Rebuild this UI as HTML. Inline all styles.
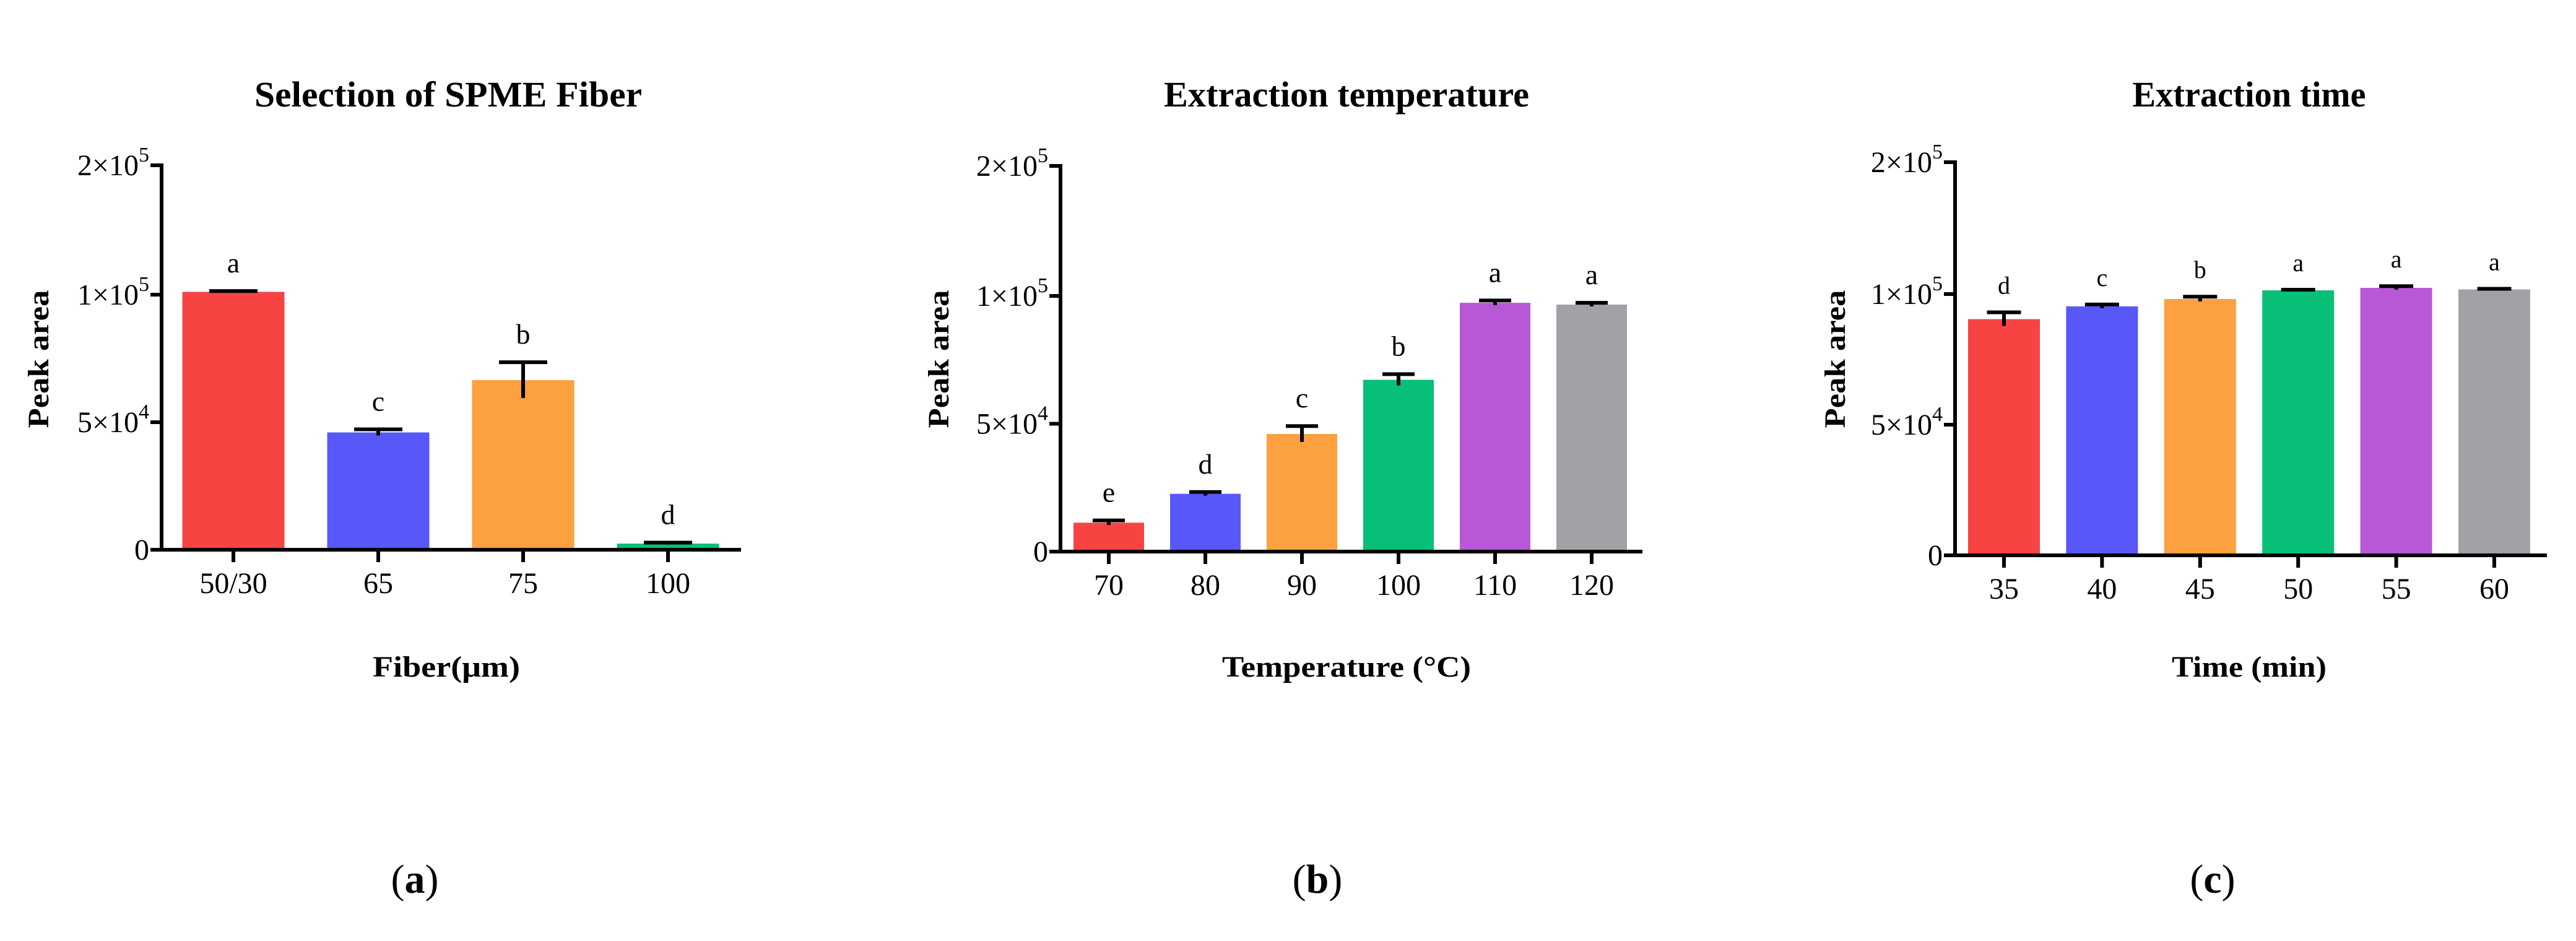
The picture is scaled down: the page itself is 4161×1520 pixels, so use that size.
<!DOCTYPE html>
<html><head><meta charset="utf-8"><style>
html,body{margin:0;padding:0;background:#fff;}
svg{display:block;font-family:"Liberation Serif",serif;}
</style></head><body>
<svg id="fig" width="4161" height="1520" viewBox="0 0 4161 1520" xmlns="http://www.w3.org/2000/svg"></svg>
<script>
const colors = ["#F84343","#5858F8","#FCA040","#08BF78","#B858D6","#A2A1A5"];
// Panel a
const catsA = ["50/30","65","75","100"];
const valsA = [102200, 46000, 66500, 2400];
const errsA = [600, 1200, 7000, 400];
const lettersA = ["a","c","b","d"];
// Panel b
const catsB = ["70","80","90","100","110","120"];
const valsB = [11300, 22600, 46000, 67200, 97300, 96600];
const errsB = [900, 700, 3100, 2200, 900, 700];
const lettersB = ["e","d","c","b","a","a"];
// Panel c
const catsC = ["35","40","45","50","55","60"];
const valsC = [90400, 95300, 98100, 102800, 104700, 103500];
const errsC = [2600, 700, 900, 500, 1300, 500];
const lettersC = ["d","c","b","a","a","a"];
const yTicks = [0, 50000, 100000, 200000];
const yTickBase = ["0","5×10","1×10","2×10"];
const yTickExp = ["","4","5","5"];

const NS="http://www.w3.org/2000/svg";
const svg=document.getElementById('fig');
function mk(tag,attrs,parent){const e=document.createElementNS(NS,tag);for(const k in attrs)e.setAttribute(k,attrs[k]);(parent||svg).appendChild(e);return e;}

const panels=[
 {id:'a',cats:catsA,vals:valsA,errs:errsA,letters:lettersA,ax:261,axEnd:1197,y0:888,y1:476,y2:267,c0:377,step:234,bw:165,cap:78,lf:46,
  title:"Selection of SPME Fiber",tx:724,tw:626,ylx:62,xl:"Fiber(μm)",xlw:238,xlx:721,lab:670},
 {id:'b',cats:catsB,vals:valsB,errs:errsB,letters:lettersB,ax:1713,axEnd:2653,y0:891,y1:478,y2:268,c0:1791,step:156,bw:114,cap:52,lf:46,
  title:"Extraction temperature",tx:2175,tw:590,ylx:1516,xl:"Temperature (°C)",xlw:402,xlx:2175,lab:2128},
 {id:'c',cats:catsC,vals:valsC,errs:errsC,letters:lettersC,ax:3158,axEnd:4114,y0:897,y1:475,y2:262,c0:3237,step:158.4,bw:116,cap:55,lf:40,
  title:"Extraction time",tx:3633,tw:377,ylx:2964,xl:"Time (min)",xlw:250,xlx:3633,lab:3574}
];

panels.forEach(p=>{
  const g=mk('g',{});
  
  
  const ys=v=> v<=100000 ? p.y0-(v/100000)*(p.y0-p.y1) : p.y1-((v-100000)/100000)*(p.y1-p.y2);
  const xs=i=> p.c0+i*p.step;
  p.vals.forEach((v,i)=>{
    const r=mk('rect',{x:xs(i)-p.bw/2,y:ys(v),width:p.bw,height:p.y0-ys(v),fill:colors[i]},g);
    
    
  });
  p.vals.forEach((v,i)=>{
    const eg=mk('g',{stroke:'#000','stroke-width':6},g);
    
    
    mk('line',{x1:xs(i),x2:xs(i),y1:ys(v-p.errs[i]),y2:ys(v+p.errs[i])},eg);
    mk('line',{x1:xs(i)-p.cap/2,x2:xs(i)+p.cap/2,y1:ys(v+p.errs[i]),y2:ys(v+p.errs[i])},eg);
    const t=mk('text',{x:xs(i),y:ys(v+p.errs[i])-30,'text-anchor':'middle','font-size':p.lf},g);
    t.textContent=p.letters[i];
    
    
  });
  const ya=mk('line',{x1:p.ax,x2:p.ax,y1:ys(200000)-3,y2:p.y0+3,stroke:'#000','stroke-width':6},g);
  
  
  const xa=mk('line',{x1:p.ax-18,x2:p.axEnd,y1:p.y0,y2:p.y0,stroke:'#000','stroke-width':6},g);
  
  
  yTicks.forEach((v,k)=>{
    mk('line',{x1:p.ax-18,x2:p.ax,y1:ys(v),y2:ys(v),stroke:'#000','stroke-width':6},g);
    const t=mk('text',{x:p.ax-20,y:ys(v)+16,'text-anchor':'end','font-size':48},g);
    
    
    t.appendChild(document.createTextNode(yTickBase[k]));
    if(yTickExp[k]){const s=mk('tspan',{dy:-22,'font-size':34},t);s.textContent=yTickExp[k];}
  });
  p.cats.forEach((c,i)=>{
    mk('line',{x1:xs(i),x2:xs(i),y1:p.y0,y2:p.y0+20,stroke:'#000','stroke-width':6},g);
    const t=mk('text',{x:xs(i),y:p.y0+70,'text-anchor':'middle','font-size':48},g);
    t.textContent=c;
    
    
  });
  const ti=mk('text',{x:p.tx,y:172,'text-anchor':'middle','font-size':58,'font-weight':'bold',textLength:p.tw,lengthAdjust:'spacingAndGlyphs'},g);
  ti.textContent=p.title;
  
  
  const yl=mk('text',{x:0,y:0,'text-anchor':'middle','font-size':48,'font-weight':'bold',textLength:223,lengthAdjust:'spacingAndGlyphs',transform:`translate(${p.ylx+16},580) rotate(-90)`},g);
  yl.textContent="Peak area";
  
  
  const xl=mk('text',{x:p.xlx,y:1093,'text-anchor':'middle','font-size':48,'font-weight':'bold',textLength:p.xlw,lengthAdjust:'spacingAndGlyphs'},g);
  xl.textContent=p.xl;
  
  
  const pl=mk('text',{x:p.lab,y:1442,'text-anchor':'middle','font-size':66},g);
  
  
  pl.appendChild(document.createTextNode('('));
  const b=mk('tspan',{'font-weight':'bold'},pl);b.textContent=p.id;
  pl.appendChild(document.createTextNode(')'));
});
</script>
</body></html>
